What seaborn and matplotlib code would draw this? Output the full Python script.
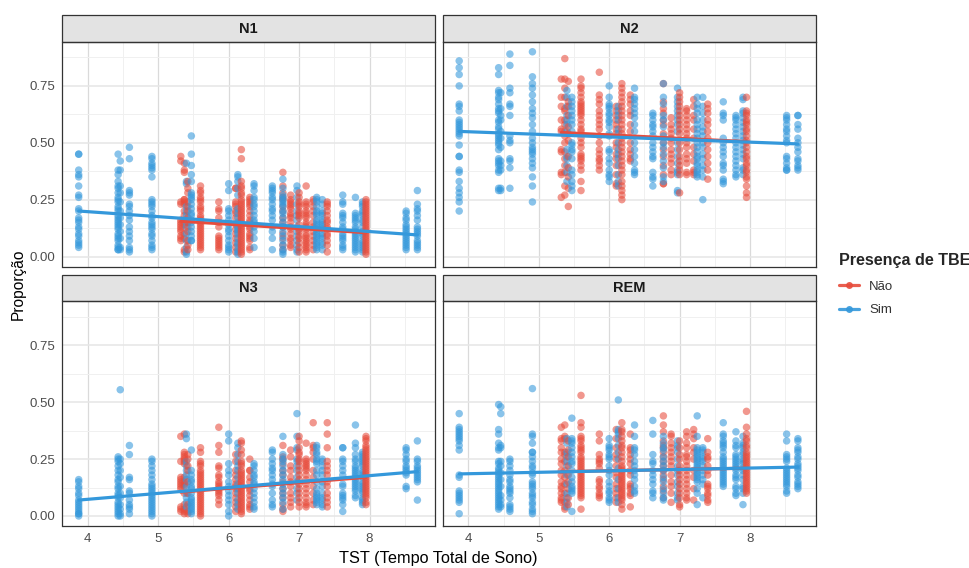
import matplotlib
matplotlib.use("Agg")
import matplotlib.pyplot as plt
from matplotlib.lines import Line2D
from matplotlib.patches import Rectangle
from matplotlib.ticker import MultipleLocator
import pandas as pd
import seaborn as sns

# colunas de TST (as mesmas nos quatro paineis)
x_sim = [3.87, 4.43, 4.46, 4.59, 4.91, 5.40, 5.47, 6.00, 6.13, 6.36, 6.62, 6.77, 6.97, 7.25, 7.33, 7.62, 7.80, 7.90, 8.52, 8.68]
x_nao = [5.32, 5.37, 5.42, 5.60, 5.86, 6.10, 6.18, 6.30, 6.77, 6.88, 7.00, 7.10, 7.20, 7.40, 7.95]

n1_sim = [
    [.45, .45, .38, .36, .35, .31, .27, .26, .21, .2, .17, .16, .15, .13, .12, .1, .09, .07, .06, .05, .04],
    [.45, .38, .36, .33, .31, .30, .28, .26, .25, .24, .22, .21, .20, .18, .17, .16, .15, .14, .13, .12, .10, .09, .08, .07, .05, .04, .03, .03],
    [.42, .38, .31, .28, .24, .2, .17, .14, .11, .08, .04, .03],
    [.48, .43, .29, .28, .27, .23, .22, .2, .18, .16, .13, .11, .09, .07, .04, .03, .02],
    [.44, .43, .41, .40, .39, .38, .35, .25, .24, .23, .22, .2, .18, .17, .15, .14, .13, .12, .1, .09, .07, .05, .04, .03],
    [.41, .33, .32, .22, .2, .18, .15, .13, .1, .07, .04, .02, .01],
    [.53, .45, .40, .36, .33, .28, .27, .26, .25, .23, .21, .19, .18, .16, .15, .13, .11, .09, .07, .07],
    [.32, .29, .21, .2, .18, .16, .14, .12, .11, .09, .07, .05, .04, .03, .02],
    [.36, .35, .33, .3, .27, .21, .19, .17, .15, .13, .12, .11, .1, .08, .06, .05, .03, .02, .01],
    [.32, .31, .29, .26, .25, .23, .22, .2, .18, .16, .15, .13, .11, .08, .04],
    [.31, .3, .29, .28, .26, .25, .23, .21, .2, .18, .16, .13, .11, .08, .03],
    [.34, .3, .27, .26, .25, .24, .23, .22, .2, .19, .17, .15, .13, .11, .09, .07, .05, .03, .02, .01],
    [.31, .29, .26, .23, .2, .18, .16, .13, .11, .09, .07, .05, .03, .02],
    [.26, .25, .24, .22, .2, .19, .18, .16, .15, .14, .13, .12, .11, .1, .09, .08, .07, .06, .05, .04, .03],
    [.25, .23, .2, .19, .18, .16, .15, .14, .13, .12, .1, .09, .08, .06, .05, .03],
    [.27, .24, .23, .19, .18, .17, .15, .13, .12, .1, .09, .08, .07, .05, .04, .03],
    [.26, .19, .18, .17, .16, .15, .13, .12, .11, .1, .09, .08, .07, .06, .05, .04, .03, .02],
    [.24, .23, .22, .2, .19, .18, .16, .15, .13, .11, .1, .09, .07, .06, .05, .04, .03, .02],
    [.2, .19, .17, .16, .14, .13, .12, .11, .1, .09, .08, .07, .06, .05, .04, .03],
    [.29, .23, .21, .2, .18, .16, .13, .12, .11, .1, .09, .07, .06, .05, .04, .03],
]
n1_nao = [
    [.44, .42, .24, .23, .16, .15, .14, .13, .12, .11, .09, .08, .07],
    [.41, .38, .37, .25, .25, .24, .23, .2, .18, .14, .1, .08, .03, .02],
    [.33, .3, .28, .24, .22, .2, .17, .15, .13, .11, .07, .05, .03],
    [.31, .29, .28, .26, .25, .24, .22, .21, .2, .18, .17, .16, .15, .14, .13, .12, .11, .1, .09, .08, .07, .06, .05, .04, .03],
    [.24, .21, .2, .17, .15, .13, .09, .08, .07, .06, .05, .04, .03],
    [.3, .3, .24, .23, .22, .2, .19, .17, .14, .12, .1, .08, .06, .04, .02],
    [.47, .43, .33, .31, .3, .28, .27, .25, .24, .23, .22, .21, .2, .19, .18, .17, .16, .15, .14, .13, .12, .11, .1, .09, .08, .07, .06, .05, .04, .03, .02, .01],
    [.26, .25, .24, .23, .22, .2, .18, .16, .15, .13, .12, .1, .09, .08, .07, .04, .03],
    [.37, .31, .28, .26, .25, .22, .2, .17, .15, .13, .1, .08, .05, .03],
    [.27, .25, .24, .23, .22, .21, .19, .18, .17, .15, .13, .12, .1, .08, .07, .05, .04],
    [.28, .26, .24, .23, .22, .2, .19, .18, .17, .14, .12, .11, .09, .08, .06, .04, .02],
    [.31, .24, .23, .22, .2, .19, .18, .17, .15, .14, .13, .12, .1, .09, .08, .07, .06, .05, .04, .03, .02],
    [.25, .24, .22, .2, .18, .15, .13, .11, .09, .07, .05, .03],
    [.24, .23, .22, .2, .18, .16, .15, .13, .12, .1, .09, .07, .05, .02],
    [.25, .24, .23, .22, .21, .2, .19, .18, .17, .16, .15, .14, .13, .12, .11, .1, .09, .08, .07, .06, .05, .04, .03, .02, .01],
]

n2_sim = [
    [.86, .83, .8, .75, .67, .66, .64, .6, .59, .58, .57, .56, .55, .54, .53, .49, .44, .44, .38, .37, .33, .3, .28, .26, .24, .2],
    [.83, .8, .73, .72, .7, .69, .67, .65, .64, .63, .6, .59, .57, .56, .54, .53, .52, .51, .5, .49, .47, .43, .42, .41, .4, .38, .37, .3, .29],
    [.72, .65, .62, .6, .55, .52, .48, .42, .4, .38, .3, .29],
    [.89, .84, .74, .72, .67, .66, .62, .53, .51, .5, .43, .42, .39, .3],
    [.90, .79, .76, .74, .71, .68, .65, .63, .61, .58, .55, .52, .5, .48, .47, .46, .45, .43, .41, .39, .35, .31, .24],
    [.73, .7, .66, .62, .6, .58, .55, .47, .44, .43, .4, .37, .33],
    [.7, .68, .66, .64, .62, .6, .58, .55, .5, .49, .47, .46, .43, .38, .36, .33, .31, .29],
    [.75, .7, .67, .66, .65, .63, .62, .6, .59, .57, .54, .53, .47, .46, .43, .41, .38, .36, .35, .33],
    [.66, .64, .62, .6, .56, .54, .5, .47, .45, .43, .4, .36, .33, .31],
    [.74, .7, .69, .67, .65, .63, .61, .58, .55, .5, .47, .44, .41, .38, .37, .36],
    [.63, .62, .6, .58, .57, .55, .53, .5, .48, .46, .44, .43, .37, .35, .34, .31],
    [.76, .7, .67, .62, .6, .57, .53, .5, .48, .45, .42, .39, .35, .33],
    [.74, .7, .68, .66, .64, .62, .6, .58, .55, .5, .47, .44, .41, .38, .37, .36, .29, .28],
    [.7, .67, .65, .63, .6, .58, .56, .54, .52, .5, .48, .46, .44, .43, .41, .4, .38, .37, .36, .35],
    [.7, .66, .63, .6, .57, .55, .53, .5, .48, .45, .43, .4, .38, .35, .25],
    [.68, .63, .62, .6, .52, .5, .48, .46, .44, .41, .4, .38, .34, .33, .32],
    [.62, .61, .6, .58, .56, .54, .52, .5, .48, .46, .44, .42, .4, .38, .36, .35],
    [.7, .69, .64, .63, .61, .59, .57, .55, .53, .51, .49, .47, .45, .43, .39, .38, .36],
    [.62, .61, .6, .58, .56, .55, .53, .51, .5, .44, .43, .41, .39, .38, .38],
    [.62, .62, .58, .56, .52, .5, .48, .46, .43, .42, .4, .39, .38],
]
n2_nao = [
    [.78, .7, .66, .6, .56, .55, .47, .46, .37, .36, .26],
    [.87, .78, .74, .7, .65, .64, .6, .58, .55, .53, .5, .46, .43, .4, .37, .31, .27],
    [.77, .68, .66, .62, .57, .54, .51, .44, .39, .35, .3, .22],
    [.78, .75, .74, .72, .7, .68, .67, .66, .65, .64, .63, .62, .6, .58, .56, .55, .52, .5, .48, .45, .44, .43, .42, .4, .38, .33, .29],
    [.81, .71, .69, .67, .64, .62, .6, .58, .56, .53, .5, .47, .45, .43, .42, .4, .38],
    [.66, .64, .62, .6, .58, .56, .54, .5, .48, .45, .43, .4, .36, .32, .31],
    [.76, .74, .72, .7, .68, .66, .64, .62, .6, .58, .56, .54, .52, .5, .48, .46, .44, .42, .4, .38, .36, .33, .31, .29, .27, .25],
    [.71, .69, .67, .64, .62, .58, .55, .5, .47, .45, .43, .42],
    [.76, .68, .65, .63, .6, .58, .54, .5, .47, .44, .4, .36, .32, .32],
    [.61, .58, .56, .54, .52, .5, .47, .45, .43, .41, .38, .36],
    [.72, .7, .68, .66, .64, .62, .6, .58, .56, .54, .5, .47, .44, .42, .4, .38, .36, .28],
    [.65, .64, .62, .6, .58, .56, .54, .52, .5, .48, .45, .43, .41, .37, .36],
    [.69, .66, .62, .6, .56, .52, .48, .45, .42, .38, .37, .36],
    [.67, .65, .63, .6, .58, .55, .52, .5, .47, .44, .41, .38, .34],
    [.7, .64, .63, .62, .6, .59, .58, .56, .55, .53, .51, .5, .48, .46, .44, .43, .41, .4, .38, .37, .35, .34, .31, .28, .26],
]

n3_sim = [
    [.16, .15, .13, .12, .1, .09, .07, .06, .05, .04, .03, .02, .01, .01, 0],
    [.26, .25, .24, .22, .2, .18, .16, .15, .13, .12, .1, .09, .08, .06, .05, .04, .03, .02, .01, 0],
    [.555, .25, .23, .2, .17, .13, .1, .08, .05, .03, .01, 0],
    [.31, .27, .17, .16, .11, .1, .07, .05, .04, .03, .01],
    [.25, .24, .22, .2, .18, .16, .14, .13, .12, .11, .1, .09, .08, .07, .06, .05, .04, .03, .02, .01, 0],
    [.36, .34, .24, .22, .2, .18, .16, .13, .1, .08, .06, .04],
    [.29, .2, .18, .16, .15, .13, .12, .1, .08, .07, .06, .05, .04, .03, .02, .01],
    [.36, .33, .23, .2, .18, .15, .13, .11, .09, .07, .05, .02, 0],
    [.32, .3, .27, .24, .22, .2, .17, .14, .12, .1, .07, .05, .03],
    [.23, .22, .2, .18, .17, .15, .14, .12, .1, .08, .06, .04, .03],
    [.29, .28, .25, .23, .21, .2, .18, .16, .14, .13, .1, .07, .05, .04],
    [.35, .27, .25, .24, .22, .2, .18, .16, .14, .12, .1, .08, .06, .03],
    [.45, .35, .3, .29, .25, .24, .22, .2, .17, .15, .12, .1, .07],
    [.31, .3, .28, .27, .25, .24, .23, .2, .18, .15, .12, .1, .09, .08, .07, .06, .05],
    [.25, .24, .22, .2, .18, .15, .13, .1, .08, .07, .05, .04],
    [.3, .3, .25, .24, .22, .2, .18, .14, .13, .1, .09, .08, .07, .05, .02],
    [.4, .32, .3, .27, .25, .24, .22, .21, .2, .19, .18, .17, .16, .15, .14, .13, .12, .11, .09, .08],
    [.28, .27, .26, .25, .24, .23, .22, .2, .19, .18, .17, .15, .14, .13, .12, .11, .1, .08, .07, .06, .05],
    [.3, .29, .27, .25, .24, .22, .21, .2, .19, .18, .13, .12],
    [.33, .25, .24, .22, .21, .2, .19, .18, .17, .16, .15, .07],
]
n3_nao = [
    [.35, .24, .17, .16, .15, .14, .13, .12, .04, .03, .02],
    [.36, .28, .27, .26, .25, .24, .23, .17, .15, .14, .13, .1, .05, .03, .02, .01],
    [.27, .25, .22, .2, .15, .1, .05, .02, .01],
    [.3, .28, .24, .23, .22, .2, .19, .18, .17, .16, .15, .14, .13, .12, .11, .1, .09, .08, .07, .06, .05, .04, .03, .02, .01, 0],
    [.39, .31, .28, .22, .21, .18, .17, .15, .14, .13, .12, .11, .1, .09, .07, .05],
    [.27, .24, .2, .18, .16, .14, .13, .12, .1, .08, .06, .04, .02],
    [.33, .32, .29, .27, .24, .23, .22, .2, .19, .18, .17, .16, .15, .14, .13, .12, .11, .1, .09, .08, .07, .06, .05, .04, .03, .02, .01],
    [.25, .2, .2, .17, .15, .12, .11, .09, .07, .05, .04, .03],
    [.31, .26, .25, .23, .2, .18, .15, .12, .1, .08, .05, .03, .02],
    [.29, .26, .22, .2, .17, .15, .13, .1, .08, .06, .04],
    [.35, .33, .3, .28, .27, .25, .24, .22, .2, .18, .16, .14, .12, .1, .08, .06, .04],
    [.32, .25, .24, .23, .22, .21, .2, .18, .16, .14, .12, .1, .08, .06, .05, .04],
    [.41, .31, .3, .28, .25, .2, .17, .13, .1, .07, .05],
    [.41, .36, .3, .24, .22, .2, .18, .15, .13, .1, .08, .06, .04],
    [.35, .34, .33, .31, .3, .29, .28, .27, .26, .25, .24, .23, .22, .21, .2, .19, .18, .17, .16, .15, .14, .13, .12, .11, .1, .09, .08, .06, .05],
]

rem_sim = [
    [.45, .39, .38, .37, .36, .35, .34, .33, .31, .29, .18, .17, .11, .1, .09, .08, .07, .06, .01],
    [.49, .38, .36, .32, .3, .29, .24, .23, .21, .2, .19, .18, .17, .16, .15, .14, .13, .12, .11, .1, .09, .08, .07, .06, .05, .04, .03],
    [.48, .45, .31, .3, .24, .22, .19, .16, .13, .09, .07, .05, .04],
    [.25, .24, .22, .2, .18, .16, .15, .13, .12, .11, .1, .08, .05, .04, .03, .02],
    [.56, .36, .35, .32, .28, .28, .26, .24, .22, .21, .19, .18, .15, .14, .13, .12, .1, .09, .08, .06, .05, .03, .02, .01],
    [.34, .32, .28, .26, .24, .22, .18, .14, .1, .08, .06, .04],
    [.43, .34, .33, .32, .3, .28, .26, .24, .23, .2, .17, .15, .13, .12, .11, .1, .02],
    [.34, .31, .3, .29, .27, .26, .25, .22, .2, .18, .15, .13, .11, .1, .08, .07, .06],
    [.51, .38, .37, .36, .34, .31, .28, .25, .21, .16, .12, .08, .06],
    [.4, .35, .3, .29, .27, .24, .22, .2, .18, .16, .13, .11, .1],
    [.42, .36, .27, .24, .23, .2, .18, .16, .14, .11, .1, .08],
    [.35, .32, .3, .29, .26, .24, .22, .2, .17, .15, .12, .1, .08, .07],
    [.33, .31, .3, .28, .25, .22, .2, .18, .15, .13, .1, .08, .07],
    [.44, .35, .3, .29, .28, .27, .26, .25, .24, .23, .22, .21, .2, .19, .18, .17, .16, .15, .12, .1, .05],
    [.3, .29, .28, .26, .25, .24, .22, .2, .18, .16, .14, .08],
    [.41, .36, .35, .33, .32, .31, .3, .28, .26, .25, .24, .23, .22, .21, .2, .19, .18, .17, .16, .15, .14, .13],
    [.37, .33, .31, .3, .27, .26, .25, .24, .23, .22, .21, .2, .18, .17, .16, .13, .12, .1, .09],
    [.35, .32, .31, .3, .28, .27, .25, .24, .23, .21, .2, .18, .16, .13, .12, .1, .05],
    [.36, .33, .27, .26, .25, .24, .21, .2, .19, .18, .17, .16, .15, .14, .13, .11, .1],
    [.34, .33, .3, .29, .28, .26, .25, .23, .22, .21, .2, .18, .17, .15, .14, .13, .12],
]
rem_nao = [
    [.39, .34, .33, .3, .28, .25, .23, .2, .18, .15, .13, .12, .1, .08, .07, .06],
    [.4, .35, .34, .28, .27, .24, .2, .17, .14, .1, .06, .04, .03],
    [.33, .29, .26, .22, .18, .15, .12, .08, .05],
    [.53, .41, .39, .35, .34, .33, .31, .3, .29, .28, .26, .25, .24, .23, .22, .21, .2, .19, .18, .17, .16, .15, .14, .13, .12, .11, .1, .09, .08, .03],
    [.36, .33, .27, .25, .24, .23, .21, .16, .15, .13, .12, .1, .09, .08],
    [.38, .34, .3, .27, .25, .22, .19, .17, .14, .12, .1, .08, .06],
    [.41, .38, .37, .35, .33, .31, .3, .28, .26, .24, .22, .21, .2, .19, .18, .17, .16, .15, .14, .13, .12, .11, .1, .09, .08, .07, .05, .03],
    [.36, .3, .29, .27, .25, .23, .2, .18, .14, .13, .12, .1, .09, .04],
    [.44, .4, .37, .33, .31, .3, .28, .26, .24, .22, .2, .18, .16, .13, .11, .08],
    [.36, .35, .32, .3, .28, .26, .24, .22, .18, .15, .13, .1, .06],
    [.33, .3, .27, .25, .22, .2, .18, .16, .14, .12, .1, .08, .05, .04],
    [.37, .35, .32, .3, .27, .26, .24, .22, .2, .18, .16, .14, .12, .1, .08, .07],
    [.38, .36, .34, .3, .28, .25, .2, .17, .12, .07],
    [.34, .28, .26, .25, .22, .2, .18, .14, .13, .12, .1, .09, .07, .06],
    [.46, .39, .36, .34, .33, .31, .3, .28, .27, .26, .25, .24, .23, .22, .21, .2, .19, .18, .17, .16, .15, .14, .13, .12, .11, .1],
]

# retas de tendencia, extremos
trend_x_sim = [3.87, 8.68]
trend_x_nao = [5.32, 7.95]
trend_sim = {"N1": [.20, .095], "N2": [.55, .495], "N3": [.07, .195], "REM": [.185, .215]}
trend_nao = {"N1": [.155, .105], "N2": [.545, .505], "N3": [.105, .17], "REM": [.195, .21]}

estagios = ["N1", "N2", "N3", "REM"]
grupos = ["Não", "Sim"]
cores = {"Não": "#E74C3C", "Sim": "#3498DB"}
valores = {
    "N1": (n1_nao, n1_sim),
    "N2": (n2_nao, n2_sim),
    "N3": (n3_nao, n3_sim),
    "REM": (rem_nao, rem_sim),
}

# tabela longa
linhas = []
for estagio in estagios:
    nao, sim = valores[estagio]
    for xs, cols, grupo in [(x_nao, nao, "Não"), (x_sim, sim, "Sim")]:
        for x, ys in zip(xs, cols):
            for y in ys:
                linhas.append({"estagio": estagio, "grupo": grupo, "tst": x, "prop": y})
dados = pd.DataFrame(linhas).sort_values("tst", kind="stable")

tendencias = []
for estagio in estagios:
    for x, y in zip(trend_x_nao, trend_nao[estagio]):
        tendencias.append({"estagio": estagio, "grupo": "Não", "tst": x, "prop": y})
    for x, y in zip(trend_x_sim, trend_sim[estagio]):
        tendencias.append({"estagio": estagio, "grupo": "Sim", "tst": x, "prop": y})
tendencias = pd.DataFrame(tendencias)

sns.set_theme(style="white")
plt.rcParams["font.family"] = ["Liberation Sans", "DejaVu Sans"]

W, H = 970, 568
g = sns.FacetGrid(dados, col="estagio", col_order=estagios, col_wrap=2, sharex=True, sharey=True, despine=False)
g.figure.set_size_inches(W / 100, H / 100)
g.figure.subplots_adjust(left=62.5 / W, right=815.5 / W, top=1 - 42 / H, bottom=1 - 526 / H, wspace=8 / 372.5, hspace=35 / 225)

for estagio, ax in g.axes_dict.items():
    ax.set_axisbelow(True)
    sns.scatterplot(data=dados[dados["estagio"] == estagio], x="tst", y="prop", hue="grupo", hue_order=grupos,
                    palette=cores, s=29, alpha=0.58, linewidth=0, legend=False, ax=ax)
    for grupo in grupos:
        t = tendencias[(tendencias["estagio"] == estagio) & (tendencias["grupo"] == grupo)]
        sns.lineplot(data=t, x="tst", y="prop", color=cores[grupo], linewidth=2.3, legend=False, ax=ax, errorbar=None)
    ax.set_xlim(3.64, 8.93)
    ax.set_ylim(-0.044, 0.943)
    ax.set_title("")
    ax.set_xlabel("")
    ax.set_ylabel("")
    ax.set_xticks([4, 5, 6, 7, 8])
    ax.set_yticks([0, .25, .5, .75])
    ax.set_yticklabels(["0.00", "0.25", "0.50", "0.75"])
    ax.xaxis.set_minor_locator(MultipleLocator(0.5))
    ax.yaxis.set_minor_locator(MultipleLocator(0.125))
    ax.grid(True, axis="x", which="major", color="#DADADA", linewidth=0.9)
    ax.grid(True, axis="y", which="major", color="#E6E6E6", linewidth=1.1)
    ax.grid(True, which="minor", color="#F0F0F0", linewidth=0.7)
    ax.tick_params(which="minor", length=0)
    ax.tick_params(which="major", length=3, width=0.8, color="#333333", labelcolor="#4D4D4D", labelsize=9.5, pad=2)
    for lado in ax.spines.values():
        lado.set_color("#333333")
        lado.set_linewidth(0.9)
    # faixa do titulo do painel
    altura = 27 / 225
    ax.add_patch(Rectangle((0, 1), 1, altura, transform=ax.transAxes, facecolor="#E3E3E3", edgecolor="#333333",
                           linewidth=0.9, clip_on=False))
    ax.text(0.5, 1 + altura / 2, estagio, transform=ax.transAxes, ha="center", va="center", fontsize=10.5, fontweight="bold", color="#1A1A1A")

for i, ax in enumerate(g.axes):
    if i % 2 == 1:
        ax.tick_params(axis="y", which="major", length=0, labelleft=False)
    if i < 2:
        ax.tick_params(axis="x", which="major", length=0, labelbottom=False)

g.figure.text(438 / W, 1 - 559 / H, "TST (Tempo Total de Sono)", ha="center", va="center", fontsize=11.7, color="black")
g.figure.text(18 / W, 1 - 284 / H, "Proporção", ha="center", va="center", rotation=90, fontsize=11.2, color="black")

marcas = [Line2D([0], [0], color=cores[k], linewidth=2.3, marker="o", markersize=5, markeredgewidth=0, alpha=0.9) for k in grupos]
leg = g.figure.legend(marcas, grupos, title="Presença de TBE", loc="upper left", bbox_to_anchor=(839 / W, 1 - 253 / H),
                      frameon=False, fontsize=9.5, labelcolor="#333333", handlelength=1.5, handletextpad=0.8, labelspacing=0.85,
                      borderpad=0, borderaxespad=0, title_fontproperties={"weight": "bold", "size": 11.6})
leg._legend_box.align = "left"
leg._legend_box.sep = 9

g.figure.savefig("out.png", dpi=100)
